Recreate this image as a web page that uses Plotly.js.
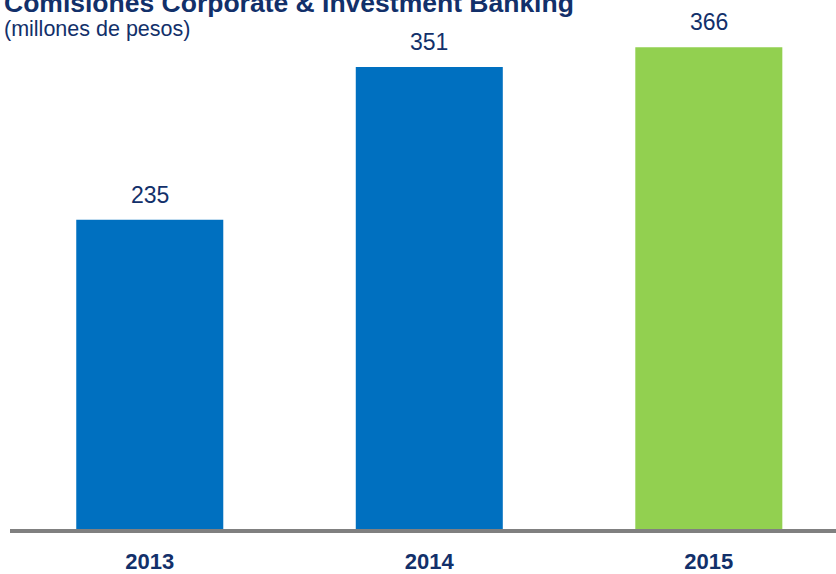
<!DOCTYPE html>
<html>
<head>
<meta charset="utf-8">
<script src="https://cdn.plot.ly/plotly-3.0.1.min.js"></script>
<style>html,body{margin:0;padding:0;background:#fff;}#chart{width:836px;height:574px;}</style>
</head>
<body>
<div id="chart"></div>
<script>
var categories = ['2013', '2014', '2015'];
var values = [235, 351, 366];
var barColors = ['#0070C0', '#0070C0', '#92D050'];
var titleText = 'Comisiones Corporate &amp; Investment Banking';
var subtitleText = '(millones de pesos)';

var navy = '#12306A';
var font = 'Arial, "Liberation Sans", sans-serif';

var trace = {
  type: 'bar',
  x: categories,
  y: values,
  marker: {color: barColors, line: {width: 0}},
  width: 0.526,
  hoverinfo: 'none'
};

var annotations = categories.map(function (c, i) {
  return {
    x: i, y: values[i], xref: 'x', yref: 'y',
    text: String(values[i]), showarrow: false,
    xanchor: 'center', yanchor: 'bottom', yshift: 10,
    font: {family: font, size: 23, color: navy}
  };
});
annotations.push({
  xref: 'paper', yref: 'paper', x: -0.01, y: 1.021,
  xanchor: 'left', yanchor: 'bottom', showarrow: false,
  text: '<b>' + titleText + '</b>',
  font: {family: font, size: 26.5, color: navy}
});
annotations.push({
  xref: 'paper', yref: 'paper', x: -0.01, y: 0.974,
  xanchor: 'left', yanchor: 'bottom', showarrow: false,
  text: subtitleText,
  font: {family: font, size: 21.5, color: navy}
});

var layout = {
  width: 836, height: 574,
  margin: {l: 10, r: 0, t: 30, b: 45},
  paper_bgcolor: '#ffffff', plot_bgcolor: '#ffffff',
  showlegend: false,
  xaxis: {
    type: 'category',
    range: [-0.5, 2.455],
    showline: true, linecolor: '#808080', linewidth: 4,
    showgrid: false, zeroline: false, ticks: '',
    ticklabelstandoff: 10,
    tickfont: {family: font, size: 22, color: navy, weight: 'bold'},
    fixedrange: true
  },
  yaxis: {
    range: [0, 379.2],
    visible: false, showgrid: false, zeroline: false,
    fixedrange: true
  },
  annotations: annotations
};

Plotly.newPlot('chart', [trace], layout, {displayModeBar: false, staticPlot: true});
</script>
</body>
</html>
